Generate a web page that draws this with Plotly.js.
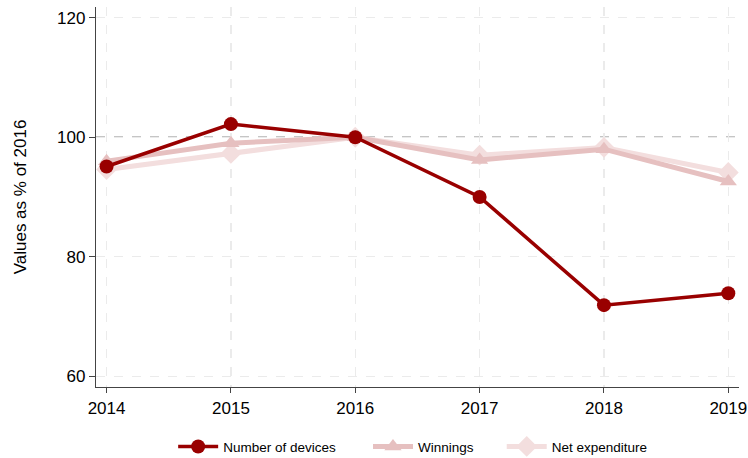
<!DOCTYPE html>
<html>
<head>
<meta charset="utf-8">
<script src="https://cdn.plot.ly/plotly-3.0.1.min.js"></script>
<style>html,body{margin:0;padding:0;background:#fff;}#chart{width:748px;height:458px;}</style>
</head>
<body>
<div id="chart"></div>
<script>
var years = [2014, 2015, 2016, 2017, 2018, 2019];
var devices = [95.1, 102.2, 100, 90.0, 71.9, 73.9];
var winnings = [96.0, 99.0, 100, 96.2, 98.0, 92.6];
var netExpenditure = [94.6, 97.3, 100, 97.0, 98.3, 94.1];
var seriesNames = ["Number of devices", "Winnings", "Net expenditure"];
var refValue = 100;

var traces = [
  {x: years, y: netExpenditure, name: seriesNames[2], type: 'scatter', mode: 'lines+markers', legend: 'legend3',
   line: {color: '#f3dede', width: 5}, marker: {symbol: 'diamond', size: 16, color: '#f3dede'}},
  {x: years, y: winnings, name: seriesNames[1], type: 'scatter', mode: 'lines+markers', legend: 'legend2',
   line: {color: '#e6c0c0', width: 5}, marker: {symbol: 'triangle-up', size: 15, color: '#e6c0c0'}},
  {x: years, y: devices, name: seriesNames[0], type: 'scatter', mode: 'lines+markers', legend: 'legend',
   line: {color: '#990000', width: 3.5}, marker: {symbol: 'circle', size: 14, color: '#990000'}}
];

function leg(x) {
  return {orientation: 'h', x: x, xanchor: 'left', y: -0.157, yanchor: 'middle',
          font: {size: 13.5}, itemwidth: 40, bgcolor: 'rgba(0,0,0,0)'};
}

var layout = {
  width: 748, height: 458,
  margin: {l: 96, r: 9, t: 7, b: 71, autoexpand: false},
  paper_bgcolor: '#fff', plot_bgcolor: '#fff',
  font: {family: 'Liberation Sans, Arial, sans-serif', color: '#000'},
  xaxis: {
    range: [2013.915, 2019.086], tickvals: years, ticktext: years.map(String),
    showgrid: true, gridcolor: '#ebebeb', griddash: 'dash', gridwidth: 1.2,
    showline: true, linecolor: '#444', linewidth: 1.2,
    ticks: 'outside', ticklen: 5, tickcolor: '#444',
    tickfont: {size: 17}, zeroline: false, automargin: false
  },
  yaxis: {
    range: [58.2, 121.8], tickvals: [60, 80, 100, 120],
    showgrid: true, gridcolor: '#ebebeb', griddash: 'dash', gridwidth: 1.2,
    showline: true, linecolor: '#444', linewidth: 1.2,
    ticks: 'outside', ticklen: 6, tickcolor: '#444',
    tickfont: {size: 17}, zeroline: false, automargin: false,
    title: {text: 'Values as % of 2016', font: {size: 17}, standoff: 26}
  },
  shapes: [{type: 'line', xref: 'paper', x0: 0, x1: 1, yref: 'y', y0: refValue, y1: refValue,
            line: {color: '#8c8c8c', width: 1.3, dash: 'dash'}, layer: 'below'}],
  showlegend: true,
  legend: leg(0.12),
  legend2: leg(0.423),
  legend3: leg(0.631)
};

Plotly.newPlot('chart', traces, layout, {displayModeBar: false, staticPlot: true});
</script>
</body>
</html>
